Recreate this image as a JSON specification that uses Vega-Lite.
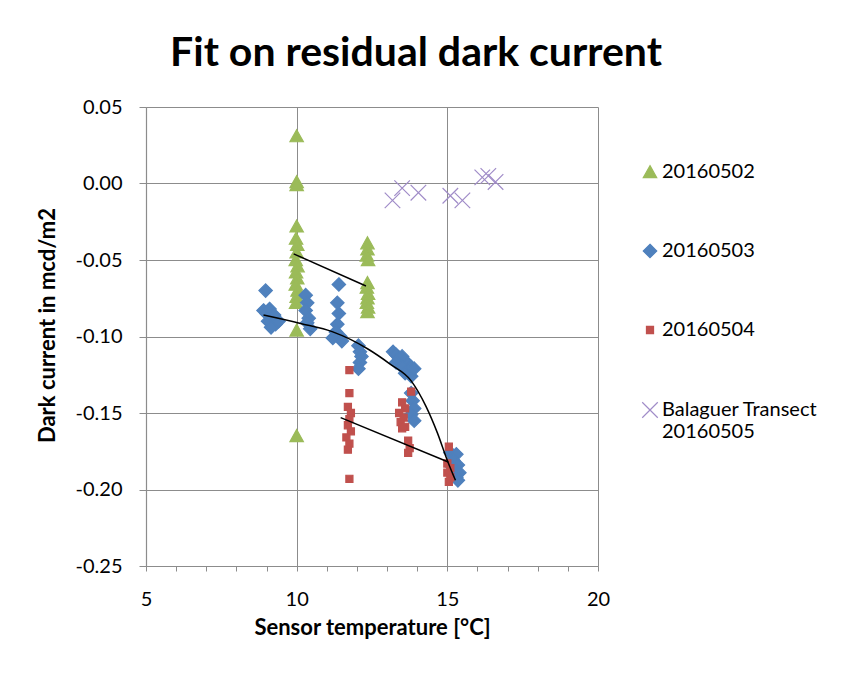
{
  "$schema": "https://vega.github.io/schema/vega-lite/v6.json",
  "width": 452,
  "height": 459,
  "autosize": {"type": "none"},
  "padding": {"left": 146, "top": 107, "right": 261, "bottom": 112},
  "background": "white",
  "title": {
    "text": "Fit on residual dark current",
    "font": "Lato",
    "fontSize": 41,
    "fontWeight": "bold",
    "color": "black",
    "anchor": "middle",
    "frame": "group",
    "dx": 44,
    "offset": 22
  },
  "datasets": {
    "pts": [
      {"series": "20160502", "temp": 10.0, "dc": 0.031},
      {"series": "20160502", "temp": 10.0, "dc": 0.001},
      {"series": "20160502", "temp": 10.0, "dc": -0.001},
      {"series": "20160502", "temp": 10.0, "dc": -0.028},
      {"series": "20160502", "temp": 9.98, "dc": -0.036},
      {"series": "20160502", "temp": 10.02, "dc": -0.040},
      {"series": "20160502", "temp": 10.0, "dc": -0.045},
      {"series": "20160502", "temp": 9.97, "dc": -0.050},
      {"series": "20160502", "temp": 10.03, "dc": -0.054},
      {"series": "20160502", "temp": 9.98, "dc": -0.058},
      {"series": "20160502", "temp": 10.02, "dc": -0.062},
      {"series": "20160502", "temp": 9.97, "dc": -0.066},
      {"series": "20160502", "temp": 10.03, "dc": -0.070},
      {"series": "20160502", "temp": 10.0, "dc": -0.074},
      {"series": "20160502", "temp": 9.98, "dc": -0.078},
      {"series": "20160502", "temp": 10.0, "dc": -0.096},
      {"series": "20160502", "temp": 10.0, "dc": -0.165},
      {"series": "20160502", "temp": 12.35, "dc": -0.039},
      {"series": "20160502", "temp": 12.35, "dc": -0.043},
      {"series": "20160502", "temp": 12.33, "dc": -0.047},
      {"series": "20160502", "temp": 12.37, "dc": -0.050},
      {"series": "20160502", "temp": 12.35, "dc": -0.065},
      {"series": "20160502", "temp": 12.33, "dc": -0.068},
      {"series": "20160502", "temp": 12.37, "dc": -0.072},
      {"series": "20160502", "temp": 12.35, "dc": -0.075},
      {"series": "20160502", "temp": 12.33, "dc": -0.078},
      {"series": "20160502", "temp": 12.37, "dc": -0.081},
      {"series": "20160502", "temp": 12.35, "dc": -0.084},
      {"series": "20160503", "temp": 8.97, "dc": -0.070},
      {"series": "20160503", "temp": 8.9, "dc": -0.083},
      {"series": "20160503", "temp": 9.0, "dc": -0.085},
      {"series": "20160503", "temp": 9.1, "dc": -0.082},
      {"series": "20160503", "temp": 9.2, "dc": -0.088},
      {"series": "20160503", "temp": 9.05, "dc": -0.090},
      {"series": "20160503", "temp": 9.3, "dc": -0.092},
      {"series": "20160503", "temp": 9.15, "dc": -0.094},
      {"series": "20160503", "temp": 9.4, "dc": -0.090},
      {"series": "20160503", "temp": 9.25, "dc": -0.086},
      {"series": "20160503", "temp": 10.3, "dc": -0.073},
      {"series": "20160503", "temp": 10.35, "dc": -0.078},
      {"series": "20160503", "temp": 10.3, "dc": -0.083},
      {"series": "20160503", "temp": 10.4, "dc": -0.088},
      {"series": "20160503", "temp": 10.35, "dc": -0.091},
      {"series": "20160503", "temp": 10.45, "dc": -0.095},
      {"series": "20160503", "temp": 11.4, "dc": -0.066},
      {"series": "20160503", "temp": 11.35, "dc": -0.078},
      {"series": "20160503", "temp": 11.4, "dc": -0.085},
      {"series": "20160503", "temp": 11.35, "dc": -0.092},
      {"series": "20160503", "temp": 11.3, "dc": -0.097},
      {"series": "20160503", "temp": 11.45, "dc": -0.100},
      {"series": "20160503", "temp": 11.2, "dc": -0.101},
      {"series": "20160503", "temp": 11.5, "dc": -0.103},
      {"series": "20160503", "temp": 12.05, "dc": -0.106},
      {"series": "20160503", "temp": 12.1, "dc": -0.110},
      {"series": "20160503", "temp": 12.15, "dc": -0.113},
      {"series": "20160503", "temp": 12.1, "dc": -0.117},
      {"series": "20160503", "temp": 12.05, "dc": -0.121},
      {"series": "20160503", "temp": 13.2, "dc": -0.110},
      {"series": "20160503", "temp": 13.3, "dc": -0.112},
      {"series": "20160503", "temp": 13.4, "dc": -0.114},
      {"series": "20160503", "temp": 13.5, "dc": -0.113},
      {"series": "20160503", "temp": 13.6, "dc": -0.116},
      {"series": "20160503", "temp": 13.7, "dc": -0.118},
      {"series": "20160503", "temp": 13.8, "dc": -0.120},
      {"series": "20160503", "temp": 13.3, "dc": -0.117},
      {"series": "20160503", "temp": 13.5, "dc": -0.120},
      {"series": "20160503", "temp": 13.7, "dc": -0.123},
      {"series": "20160503", "temp": 13.8, "dc": -0.126},
      {"series": "20160503", "temp": 13.6, "dc": -0.124},
      {"series": "20160503", "temp": 13.9, "dc": -0.121},
      {"series": "20160503", "temp": 13.8, "dc": -0.137},
      {"series": "20160503", "temp": 13.85, "dc": -0.142},
      {"series": "20160503", "temp": 13.9, "dc": -0.147},
      {"series": "20160503", "temp": 13.8, "dc": -0.151},
      {"series": "20160503", "temp": 13.9, "dc": -0.155},
      {"series": "20160503", "temp": 15.1, "dc": -0.176},
      {"series": "20160503", "temp": 15.3, "dc": -0.177},
      {"series": "20160503", "temp": 15.2, "dc": -0.181},
      {"series": "20160503", "temp": 15.35, "dc": -0.184},
      {"series": "20160503", "temp": 15.15, "dc": -0.185},
      {"series": "20160503", "temp": 15.25, "dc": -0.187},
      {"series": "20160503", "temp": 15.4, "dc": -0.189},
      {"series": "20160503", "temp": 15.3, "dc": -0.192},
      {"series": "20160503", "temp": 15.35, "dc": -0.194},
      {"series": "20160504", "temp": 11.75, "dc": -0.122},
      {"series": "20160504", "temp": 11.75, "dc": -0.137},
      {"series": "20160504", "temp": 11.7, "dc": -0.146},
      {"series": "20160504", "temp": 11.8, "dc": -0.150},
      {"series": "20160504", "temp": 11.75, "dc": -0.154},
      {"series": "20160504", "temp": 11.7, "dc": -0.158},
      {"series": "20160504", "temp": 11.8, "dc": -0.162},
      {"series": "20160504", "temp": 11.65, "dc": -0.166},
      {"series": "20160504", "temp": 11.75, "dc": -0.170},
      {"series": "20160504", "temp": 11.7, "dc": -0.174},
      {"series": "20160504", "temp": 11.75, "dc": -0.193},
      {"series": "20160504", "temp": 13.8, "dc": -0.136},
      {"series": "20160504", "temp": 13.5, "dc": -0.143},
      {"series": "20160504", "temp": 13.6, "dc": -0.147},
      {"series": "20160504", "temp": 13.4, "dc": -0.150},
      {"series": "20160504", "temp": 13.55, "dc": -0.153},
      {"series": "20160504", "temp": 13.45, "dc": -0.156},
      {"series": "20160504", "temp": 13.6, "dc": -0.159},
      {"series": "20160504", "temp": 13.5, "dc": -0.160},
      {"series": "20160504", "temp": 13.7, "dc": -0.168},
      {"series": "20160504", "temp": 13.75, "dc": -0.173},
      {"series": "20160504", "temp": 13.7, "dc": -0.176},
      {"series": "20160504", "temp": 15.05, "dc": -0.172},
      {"series": "20160504", "temp": 15.0, "dc": -0.183},
      {"series": "20160504", "temp": 15.1, "dc": -0.186},
      {"series": "20160504", "temp": 15.0, "dc": -0.189},
      {"series": "20160504", "temp": 15.1, "dc": -0.192},
      {"series": "20160504", "temp": 15.05, "dc": -0.195},
      {"series": "Balaguer Transect 20160505", "temp": 13.18, "dc": -0.011},
      {"series": "Balaguer Transect 20160505", "temp": 13.5, "dc": -0.003},
      {"series": "Balaguer Transect 20160505", "temp": 14.04, "dc": -0.006},
      {"series": "Balaguer Transect 20160505", "temp": 15.1, "dc": -0.008},
      {"series": "Balaguer Transect 20160505", "temp": 15.5, "dc": -0.011},
      {"series": "Balaguer Transect 20160505", "temp": 16.16, "dc": 0.004},
      {"series": "Balaguer Transect 20160505", "temp": 16.36, "dc": 0.005},
      {"series": "Balaguer Transect 20160505", "temp": 16.6, "dc": 0.001}
    ],
    "fits": [
      {"fit": "a", "temp": 9.9, "dc": -0.046},
      {"fit": "a", "temp": 12.3, "dc": -0.067},
      {"fit": "b", "temp": 8.9, "dc": -0.086},
      {"fit": "b", "temp": 10.13, "dc": -0.0915},
      {"fit": "b", "temp": 11.2, "dc": -0.097},
      {"fit": "b", "temp": 12.35, "dc": -0.108},
      {"fit": "b", "temp": 13.1, "dc": -0.118},
      {"fit": "b", "temp": 13.8, "dc": -0.129},
      {"fit": "b", "temp": 14.3, "dc": -0.146},
      {"fit": "b", "temp": 14.67, "dc": -0.163},
      {"fit": "b", "temp": 15.0, "dc": -0.181},
      {"fit": "b", "temp": 15.27, "dc": -0.194},
      {"fit": "c", "temp": 11.46, "dc": -0.153},
      {"fit": "c", "temp": 15.03, "dc": -0.182}
    ]
  },
  "layer": [
    {
      "data": {"name": "pts"},
      "mark": {"type": "point", "filled": true, "size": 200, "opacity": 1, "strokeWidth": 1.2},
      "encoding": {
        "x": {
          "field": "temp", "type": "quantitative",
          "scale": {"domain": [5, 20], "nice": false, "zero": false},
          "axis": {
            "title": "Sensor temperature [°C]",
            "values": [5, 6, 7, 8, 9, 10, 11, 12, 13, 14, 15, 16, 17, 18, 19, 20],
            "tickCount": 20,
            "labelOverlap": false,
            "labelFlush": false,
            "labelExpr": "datum.value % 5 === 0 ? datum.label : ''",
            "gridOpacity": {"condition": {"test": "datum.value % 5 === 0", "value": 1}, "value": 0},
            "tickSize": 5,
            "labelPadding": 18,
            "titlePadding": 8
          }
        },
        "y": {
          "field": "dc", "type": "quantitative",
          "scale": {"domain": [-0.25, 0.05], "nice": false, "zero": false},
          "axis": {
            "title": "Dark current in mcd/m2",
            "values": [-0.25, -0.2, -0.15, -0.1, -0.05, 0, 0.05],
            "labelOverlap": false,
            "labelFlush": false,
            "labelExpr": "replace(format(datum.value, '.2f'), '\u2212', '-')",
            "tickSize": 7,
            "labelPadding": 17,
            "titlePadding": 16,
            "titleY": 218
          }
        },
        "color": {
          "field": "series", "type": "nominal",
          "scale": {"domain": ["20160502", "20160503", "20160504", "Balaguer Transect 20160505"], "range": ["#9BBB59", "#4F81BD", "#C0504D", "#A08CC8"]},
          "legend": {
            "title": null,
            "orient": "none",
            "legendX": 494,
            "legendY": 55,
            "labelExpr": "datum.value == 'Balaguer Transect 20160505' ? ['Balaguer Transect', '20160505'] : datum.value"
          }
        },
        "stroke": {
          "field": "series", "type": "nominal",
          "scale": {"domain": ["20160502", "20160503", "20160504", "Balaguer Transect 20160505"], "range": ["#9BBB59", "#4F81BD", "#C0504D", "#A08CC8"]},
          "legend": {
            "title": null,
            "orient": "none",
            "legendX": 494,
            "legendY": 55,
            "labelExpr": "datum.value == 'Balaguer Transect 20160505' ? ['Balaguer Transect', '20160505'] : datum.value"
          }
        },
        "shape": {
          "field": "series", "type": "nominal",
          "scale": {"domain": ["20160502", "20160503", "20160504", "Balaguer Transect 20160505"], "range": ["M0,-0.9L0.95,0.8L-0.95,0.8Z", "M0,-0.95L0.95,0L0,0.95L-0.95,0Z", "M-0.5,-0.5L0.5,-0.5L0.5,0.5L-0.5,0.5Z", "M-1.1,-1.1L1.1,1.1M1.1,-1.1L-1.1,1.1"]},
          "legend": {
            "title": null,
            "orient": "none",
            "legendX": 494,
            "legendY": 55,
            "labelExpr": "datum.value == 'Balaguer Transect 20160505' ? ['Balaguer Transect', '20160505'] : datum.value"
          }
        }
      }
    },
    {
      "data": {"name": "fits"},
      "mark": {"type": "line", "color": "black", "strokeWidth": 1.5, "interpolate": "monotone"},
      "encoding": {
        "x": {"field": "temp", "type": "quantitative"},
        "y": {"field": "dc", "type": "quantitative"},
        "detail": {"field": "fit", "type": "nominal"}
      }
    }
  ],
  "config": {
    "font": "Lato",
    "view": {"stroke": null},
    "axis": {
      "labelFont": "Lato",
      "labelFontSize": 20,
      "labelColor": "black",
      "titleFont": "Lato",
      "titleFontSize": 22,
      "titleFontWeight": "bold",
      "titleColor": "black",
      "gridColor": "#8C8C8C",
      "gridWidth": 1,
      "domainColor": "#8C8C8C",
      "tickColor": "#8C8C8C",
      "domainWidth": 1.2
    },
    "legend": {
      "labelFont": "Lato",
      "labelFontSize": 20,
      "labelColor": "black",
      "symbolSize": 200,
      "symbolStrokeWidth": 1.2,
      "rowPadding": 59,
      "labelOffset": 2,
      "labelLimit": 300,
      "padding": 0
    }
  }
}
